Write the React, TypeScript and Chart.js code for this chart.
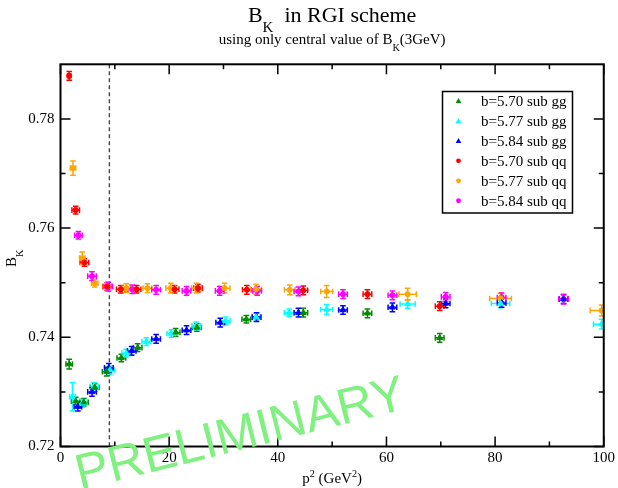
import { useEffect, useRef } from "react";
import { Chart, registerables } from "chart.js";

Chart.register(...registerables);

const SERIF = "'Liberation Serif', 'Times New Roman', Times, serif";
const SANS = "'Liberation Sans', Arial, Helvetica, sans-serif";

// Axis ranges and tick positions
const X_MIN = 0;
const X_MAX = 100;
const Y_MIN = 0.72;
const Y_MAX = 0.79;
const X_TICKS = [0, 20, 40, 60, 80, 100];
const X_TICK_LABELS = ["0", "20", "40", "60", "80", "100"];
const X_MINOR = [10, 30, 50, 70, 90];
const Y_TICKS = [0.72, 0.74, 0.76, 0.78];
const Y_TICK_LABELS = ["0.72", "0.74", "0.76", "0.78"];
const Y_MINOR = [0.73, 0.75, 0.77];

// Matching scale mu^2 = (3 GeV)^2
const MU2 = 9;

// b=5.70, gluon-subtracted
const B570_GG_P2 = [1.6, 2.8, 4.3, 6.3, 8.5, 11.2, 14.2, 21.2, 25.1, 34.2, 44.7, 56.5, 69.8];
const B570_GG_BK = [0.7351, 0.7283, 0.7281, 0.7308, 0.7337, 0.7362, 0.7381, 0.7409, 0.7418, 0.7433, 0.7445, 0.7444, 0.7399];
const B570_GG_DP2 = [0.6, 0.8, 0.8, 0.8, 0.8, 0.8, 0.8, 0.8, 0.8, 0.8, 0.8, 0.8, 0.8];
const B570_GG_DBK = [0.0009, 0.0007, 0.0007, 0.0007, 0.0008, 0.0007, 0.0007, 0.0007, 0.0007, 0.0007, 0.0008, 0.0008, 0.0008];

// b=5.77, gluon-subtracted
const B577_GG_P2 = [2.2, 4.0, 6.2, 9.1, 12.1, 15.8, 20.4, 25.0, 30.4, 36.0, 42.1, 49.0, 63.9, 81.0, 99.6];
const B577_GG_BK = [0.7291, 0.7279, 0.731, 0.734, 0.7371, 0.7392, 0.7407, 0.7421, 0.743, 0.7437, 0.7445, 0.7451, 0.7461, 0.7462, 0.7424];
const B577_GG_DP2 = [0.5, 0.8, 0.8, 0.8, 0.8, 0.8, 0.8, 0.8, 0.8, 0.8, 0.9, 1.1, 1.4, 1.7, 1.5];
const B577_GG_DBK = [0.0026, 0.0007, 0.0007, 0.0007, 0.0007, 0.0007, 0.0007, 0.0007, 0.0007, 0.0007, 0.0007, 0.0009, 0.0008, 0.0008, 0.0009];

// b=5.84, gluon-subtracted
const B584_GG_P2 = [3.2, 5.8, 8.9, 13.1, 17.6, 23.2, 29.4, 36.1, 43.8, 52.0, 61.1, 70.9, 81.2, 92.6];
const B584_GG_BK = [0.7273, 0.73, 0.7344, 0.7375, 0.7397, 0.7413, 0.7427, 0.7437, 0.7445, 0.745, 0.7455, 0.7462, 0.7463, 0.747];
const B584_GG_DP2 = [0.7, 0.8, 0.8, 0.8, 0.8, 0.8, 0.8, 0.8, 0.8, 0.8, 0.8, 0.8, 0.8, 0.8];
const B584_GG_DBK = [0.0008, 0.0008, 0.0008, 0.0008, 0.0008, 0.0008, 0.0008, 0.0008, 0.0008, 0.0008, 0.0008, 0.0008, 0.0008, 0.0008];

// b=5.70, quark-subtracted
const B570_QQ_P2 = [1.6, 2.8, 4.4, 8.6, 11.1, 14.0, 21.0, 25.3, 34.3, 44.7, 56.5, 69.8];
const B570_QQ_BK = [0.7879, 0.7633, 0.7537, 0.7493, 0.7488, 0.7488, 0.7488, 0.749, 0.7487, 0.7486, 0.7479, 0.7457];
const B570_QQ_DP2 = [0.3, 0.7, 0.8, 0.8, 0.8, 0.8, 0.8, 0.8, 0.8, 0.8, 0.8, 0.8];
const B570_QQ_DBK = [0.0008, 0.0007, 0.0007, 0.0007, 0.0007, 0.0007, 0.0007, 0.0007, 0.0008, 0.0008, 0.0008, 0.0008];

// b=5.77, quark-subtracted
const B577_QQ_P2 = [2.3, 4.0, 6.3, 8.7, 12.1, 16.0, 20.3, 25.0, 30.2, 36.0, 42.2, 49.0, 63.9, 81.0, 99.6];
const B577_QQ_BK = [0.771, 0.7545, 0.7499, 0.7493, 0.749, 0.749, 0.749, 0.749, 0.749, 0.7488, 0.7487, 0.7484, 0.7479, 0.7471, 0.7449];
const B577_QQ_DP2 = [0.5, 0.5, 0.6, 0.8, 0.8, 0.8, 0.9, 0.9, 1.0, 1.0, 1.0, 1.1, 1.6, 2.0, 2.1];
const B577_QQ_DBK = [0.0013, 0.0011, 0.0007, 0.0008, 0.0008, 0.0008, 0.0009, 0.0009, 0.0009, 0.0009, 0.0009, 0.0011, 0.0011, 0.001, 0.001];

// b=5.84, quark-subtracted
const B584_QQ_P2 = [3.3, 5.8, 8.8, 13.2, 17.6, 23.2, 29.3, 36.2, 43.8, 52.0, 61.1, 70.9, 81.2, 92.6];
const B584_QQ_BK = [0.7587, 0.7512, 0.7493, 0.7488, 0.7487, 0.7485, 0.7485, 0.7485, 0.7484, 0.7479, 0.7477, 0.7474, 0.7473, 0.747];
const B584_QQ_DP2 = [0.7, 0.8, 0.8, 0.8, 0.8, 0.8, 0.8, 0.8, 0.8, 0.8, 0.8, 0.8, 0.8, 0.9];
const B584_QQ_DBK = [0.0007, 0.0008, 0.0008, 0.0008, 0.0008, 0.0008, 0.0008, 0.0008, 0.0008, 0.0008, 0.0008, 0.0008, 0.0008, 0.0009];

const SERIES_LABELS = [
  "b=5.70 sub gg",
  "b=5.77 sub gg",
  "b=5.84 sub gg",
  "b=5.70 sub qq",
  "b=5.77 sub qq",
  "b=5.84 sub qq",
];
const SERIES_COLORS = ["#008b00", "#00ffff", "#0000ff", "#ff0000", "#ffa500", "#ff00ff"];
const SERIES_SHAPES = ["triangle", "triangle", "triangle", "circle", "circle", "circle"];

const SERIES = [
  { p2: B570_GG_P2, bk: B570_GG_BK, dp2: B570_GG_DP2, dbk: B570_GG_DBK },
  { p2: B577_GG_P2, bk: B577_GG_BK, dp2: B577_GG_DP2, dbk: B577_GG_DBK },
  { p2: B584_GG_P2, bk: B584_GG_BK, dp2: B584_GG_DP2, dbk: B584_GG_DBK },
  { p2: B570_QQ_P2, bk: B570_QQ_BK, dp2: B570_QQ_DP2, dbk: B570_QQ_DBK },
  { p2: B577_QQ_P2, bk: B577_QQ_BK, dp2: B577_QQ_DP2, dbk: B577_QQ_DBK },
  { p2: B584_QQ_P2, bk: B584_QQ_BK, dp2: B584_QQ_DP2, dbk: B584_QQ_DBK },
];

type Piece = { t: string; script?: "sub" | "sup" };

function drawRich(
  ctx: CanvasRenderingContext2D,
  pieces: Piece[],
  x: number,
  y: number,
  size: number,
  align: "center" | "left",
  subScale = 0.68
) {
  const small = size * subScale;
  ctx.textAlign = "left";
  ctx.textBaseline = "alphabetic";
  const widths = pieces.map((p) => {
    ctx.font = `${p.script ? small : size}px ${SERIF}`;
    return ctx.measureText(p.t).width;
  });
  const total = widths.reduce((a, b) => a + b, 0);
  let cx = align === "center" ? x - total / 2 : x;
  pieces.forEach((p, i) => {
    ctx.font = `${p.script ? small : size}px ${SERIF}`;
    const dy = p.script === "sub" ? size * 0.45 : p.script === "sup" ? -size * 0.42 : 0;
    ctx.fillText(p.t, cx, y + dy);
    cx += widths[i];
  });
}

function drawMarker(ctx: CanvasRenderingContext2D, shape: string, x: number, y: number, r: number, color: string) {
  ctx.fillStyle = color;
  ctx.beginPath();
  if (shape === "triangle") {
    ctx.moveTo(x, y - r);
    ctx.lineTo(x + r * 0.95, y + r * 0.7);
    ctx.lineTo(x - r * 0.95, y + r * 0.7);
    ctx.closePath();
  } else {
    ctx.arc(x, y, r, 0, Math.PI * 2);
  }
  ctx.fill();
}

const decorPlugin = {
  id: "bkDecor",
  beforeDatasetsDraw(chart: any) {
    const { ctx, chartArea: a, scales } = chart;
    const xs = scales.x;
    const ys = scales.y;
    ctx.save();
    ctx.beginPath();
    ctx.rect(a.left, a.top, a.right - a.left, a.bottom - a.top);
    ctx.clip();

    // vertical dashed line at the matching scale
    const mx = xs.getPixelForValue(MU2);
    ctx.strokeStyle = "#444";
    ctx.lineWidth = 1.4;
    ctx.setLineDash([4, 3]);
    ctx.beginPath();
    ctx.moveTo(mx, a.top);
    ctx.lineTo(mx, a.bottom);
    ctx.stroke();
    ctx.setLineDash([]);

    // error bars with caps
    const cap = 2.8;
    ctx.lineWidth = 1.5;
    SERIES.forEach((s, si) => {
      ctx.strokeStyle = SERIES_COLORS[si];
      s.p2.forEach((p, i) => {
        const cx = xs.getPixelForValue(p);
        const cy = ys.getPixelForValue(s.bk[i]);
        const x0 = xs.getPixelForValue(p - s.dp2[i]);
        const x1 = xs.getPixelForValue(p + s.dp2[i]);
        const y0 = ys.getPixelForValue(s.bk[i] - s.dbk[i]);
        const y1 = ys.getPixelForValue(s.bk[i] + s.dbk[i]);
        ctx.beginPath();
        ctx.moveTo(x0, cy);
        ctx.lineTo(x1, cy);
        ctx.moveTo(x0, cy - cap);
        ctx.lineTo(x0, cy + cap);
        ctx.moveTo(x1, cy - cap);
        ctx.lineTo(x1, cy + cap);
        ctx.moveTo(cx, y0);
        ctx.lineTo(cx, y1);
        ctx.moveTo(cx - cap, y0);
        ctx.lineTo(cx + cap, y0);
        ctx.moveTo(cx - cap, y1);
        ctx.lineTo(cx + cap, y1);
        ctx.stroke();
      });
    });
    ctx.restore();
  },
  afterDraw(chart: any) {
    const { ctx, chartArea: a, scales } = chart;
    const xs = scales.x;
    const ys = scales.y;
    ctx.save();

    // frame
    ctx.strokeStyle = "#000";
    ctx.lineWidth = 2;
    ctx.strokeRect(a.left, a.top, a.right - a.left, a.bottom - a.top);

    // inward ticks on all four sides
    ctx.lineWidth = 1.5;
    const major = 10;
    const minor = 5;
    const vTick = (v: number, len: number) => {
      const px = xs.getPixelForValue(v);
      ctx.beginPath();
      ctx.moveTo(px, a.bottom);
      ctx.lineTo(px, a.bottom - len);
      ctx.moveTo(px, a.top);
      ctx.lineTo(px, a.top + len);
      ctx.stroke();
    };
    const hTick = (v: number, len: number) => {
      const py = ys.getPixelForValue(v);
      ctx.beginPath();
      ctx.moveTo(a.left, py);
      ctx.lineTo(a.left + len, py);
      ctx.moveTo(a.right, py);
      ctx.lineTo(a.right - len, py);
      ctx.stroke();
    };
    X_TICKS.forEach((v) => vTick(v, major));
    X_MINOR.forEach((v) => vTick(v, minor));
    Y_TICKS.forEach((v) => hTick(v, major));
    Y_MINOR.forEach((v) => hTick(v, minor));

    const cxPlot = (a.left + a.right) / 2;
    const cyPlot = (a.top + a.bottom) / 2;
    ctx.fillStyle = "#000";

    // titles
    drawRich(ctx, [{ t: "B" }, { t: "K", script: "sub" }, { t: "  in RGI scheme" }], cxPlot, 22, 22, "center");
    drawRich(
      ctx,
      [{ t: "using only central value of B" }, { t: "K", script: "sub" }, { t: "(3GeV)" }],
      cxPlot,
      44,
      15,
      "center"
    );

    // axis titles
    drawRich(
      ctx,
      [{ t: "p" }, { t: "2", script: "sup" }, { t: " (GeV" }, { t: "2", script: "sup" }, { t: ")" }],
      cxPlot,
      483,
      15,
      "center"
    );
    ctx.save();
    ctx.translate(16, cyPlot + 3);
    ctx.rotate(-Math.PI / 2);
    drawRich(ctx, [{ t: "B" }, { t: "K", script: "sub" }], 0, 0, 15, "center");
    ctx.restore();

    // legend
    const lx = 442.5;
    const ly = 91.5;
    const lw = 130;
    const lh = 121.5;
    ctx.fillStyle = "#fff";
    ctx.fillRect(lx, ly, lw, lh);
    ctx.strokeStyle = "#000";
    ctx.lineWidth = 1.5;
    ctx.strokeRect(lx, ly, lw, lh);
    SERIES_LABELS.forEach((label, i) => {
      const rowY = 101 + i * 19.95;
      drawMarker(ctx, SERIES_SHAPES[i], 458.5, rowY, SERIES_SHAPES[i] === "triangle" ? 3 : 2.4, SERIES_COLORS[i]);
      ctx.fillStyle = "#000";
      ctx.font = `15px ${SERIF}`;
      ctx.textAlign = "left";
      ctx.textBaseline = "alphabetic";
      ctx.fillText(label, 481, rowY + 5);
    });

    // watermark
    ctx.save();
    ctx.translate(80, 490);
    ctx.rotate((-14 * Math.PI) / 180);
    ctx.font = `50px ${SANS}`;
    ctx.fillStyle = "#80f080";
    ctx.textAlign = "left";
    ctx.textBaseline = "alphabetic";
    ctx.fillText("PRELIMINARY", 0, 0);
    ctx.restore();

    ctx.restore();
  },
};

export default function App() {
  const canvasRef = useRef<HTMLCanvasElement | null>(null);

  useEffect(() => {
    const canvas = canvasRef.current;
    if (!canvas) return;
    const chart = new Chart(canvas, {
      type: "scatter",
      data: {
        datasets: SERIES.map((s, si) => ({
          label: SERIES_LABELS[si],
          data: s.p2.map((p, i) => ({ x: p, y: s.bk[i] })),
          pointStyle: SERIES_SHAPES[si] as any,
          pointRadius: SERIES_SHAPES[si] === "triangle" ? 3.4 : 2.6,
          backgroundColor: SERIES_COLORS[si],
          borderColor: SERIES_COLORS[si],
          borderWidth: 1,
          showLine: false,
        })),
      },
      options: {
        animation: false,
        responsive: false,
        devicePixelRatio: 1,
        events: [],
        layout: { padding: { left: 0, right: 12.5, top: 64.3, bottom: 0 } },
        plugins: {
          legend: { display: false },
          tooltip: { enabled: false },
          title: { display: false },
        },
        scales: {
          x: {
            type: "linear",
            min: X_MIN,
            max: X_MAX,
            grid: { display: false, drawTicks: false },
            border: { display: false },
            afterBuildTicks: (scale: any) => {
              scale.ticks = X_TICKS.map((v) => ({ value: v }));
            },
            afterFit: (scale: any) => {
              scale.height = 41.5;
            },
            ticks: {
              padding: 3,
              maxRotation: 0,
              autoSkip: false,
              color: "#000",
              font: { family: SERIF, size: 15 },
              callback: (_v: any, i: number) => X_TICK_LABELS[i],
            },
          },
          y: {
            type: "linear",
            min: Y_MIN,
            max: Y_MAX,
            grid: { display: false, drawTicks: false },
            border: { display: false },
            afterBuildTicks: (scale: any) => {
              scale.ticks = Y_TICKS.map((v) => ({ value: v }));
            },
            afterFit: (scale: any) => {
              scale.width = 60.5;
            },
            ticks: {
              padding: 6,
              autoSkip: false,
              color: "#000",
              font: { family: SERIF, size: 15 },
              callback: (_v: any, i: number) => Y_TICK_LABELS[i],
            },
          },
        },
      },
      plugins: [decorPlugin],
    });
    return () => chart.destroy();
  }, []);

  return (
    <div style={{ position: "fixed", left: 0, top: 0, width: 618, height: 488, background: "#fff" }}>
      <canvas ref={canvasRef} width={618} height={488} style={{ display: "block" }} />
    </div>
  );
}
